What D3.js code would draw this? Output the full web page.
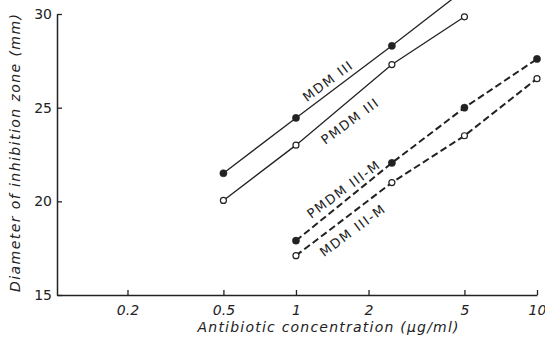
<!DOCTYPE html>
<html><head><meta charset="utf-8">
<script src="https://cdn.jsdelivr.net/npm/d3@7"></script>
<style>
body{margin:0;background:#fff;}
svg{display:block;}
text{font-family:"DejaVu Sans","Liberation Sans",sans-serif;fill:#222;}
</style></head>
<body>
<svg id="chart" width="545" height="339"></svg>
<script>
// ---- data ----
const xTicks = [0.2, 0.5, 1, 2, 5, 10];
const xTickLabels = ["0.2", "0.5", "1", "2", "5", "10"];
const yTicks = [15, 20, 25, 30];
const yTickLabels = ["15", "20", "25", "30"];

const concA = [0.5, 1, 2.5, 5];
const mdmIII = [21.5, 24.45, 28.3, 31.3];
const pmdmIII = [20.05, 23.0, 27.3, 29.85];

const concB = [1, 2.5, 5, 10];
const pmdmIIIM = [17.9, 22.05, 25.0, 27.6];
const mdmIIIM = [17.1, 21.0, 23.5, 26.55];

const seriesNames = ["MDM III", "PMDM III", "PMDM III-M", "MDM III-M"];
// label anchor (concentration, diameter) for each series name
const labelConc = [1.36, 1.68, 1.58, 1.72];
const labelDiam = [26.43, 24.29, 20.65, 18.45];

const xTitle = "Antibiotic concentration (\u03bcg/ml)";
const yTitle = "Diameter of inhibition zone (mm)";

// ---- chart ----
const svg = d3.select("#chart");
const x = d3.scaleLog().domain([0.102, 10]).range([57, 537]);
const y = d3.scaleLinear().domain([15, 30]).range([295, 14]);
const ink = "#222";

const series = [
  {c: concA, v: mdmIII, filled: true, dashed: false},
  {c: concA, v: pmdmIII, filled: false, dashed: false},
  {c: concB, v: pmdmIIIM, filled: true, dashed: true},
  {c: concB, v: mdmIIIM, filled: false, dashed: true}
];

const line = d3.line().x(d => x(d[0])).y(d => y(d[1]));

series.forEach(s => {
  const pts = s.c.map((c, i) => [c, s.v[i]]);
  svg.append("path")
    .attr("d", line(pts))
    .attr("fill", "none")
    .attr("stroke", ink)
    .attr("stroke-width", s.dashed ? 2 : 1.3)
    .attr("stroke-dasharray", s.dashed ? "7,3.5" : null);
  svg.selectAll(null).data(pts).enter().append("circle")
    .attr("cx", d => x(d[0]))
    .attr("cy", d => y(d[1]))
    .attr("r", s.filled ? 3.6 : 3)
    .attr("fill", s.filled ? ink : "#fff")
    .attr("stroke", ink)
    .attr("stroke-width", s.filled ? 0.5 : 1.2);
});

// axes
const xAxis = d3.axisBottom(x).tickValues(xTicks)
  .tickFormat((d, i) => xTickLabels[i]).tickSizeInner(-5).tickSizeOuter(0).tickPadding(10);
const gx = svg.append("g").attr("transform", `translate(0,${y(15)})`).call(xAxis);
gx.select(".domain").attr("stroke", ink).attr("stroke-width", 1.5);
gx.selectAll(".tick line").attr("stroke", ink).attr("stroke-width", 1.3);
gx.selectAll(".tick text").attr("font-size", 14).attr("font-style", "italic")
  .attr("fill", ink).attr("font-family", "DejaVu Sans, sans-serif");

const yAxis = d3.axisLeft(y).tickValues(yTicks)
  .tickFormat((d, i) => yTickLabels[i]).tickSizeInner(-5).tickSizeOuter(0).tickPadding(5);
const gy = svg.append("g").attr("transform", `translate(${x.range()[0]},0)`).call(yAxis);
gy.select(".domain").attr("stroke", ink).attr("stroke-width", 1.5);
gy.selectAll(".tick line").attr("stroke", ink).attr("stroke-width", 1.3);
gy.selectAll(".tick text").attr("font-size", 14)
  .attr("fill", ink).attr("font-family", "DejaVu Sans, sans-serif");

// axis titles
svg.append("text")
  .attr("x", 328).attr("y", 332)
  .attr("text-anchor", "middle")
  .attr("font-size", 14).attr("font-style", "italic")
  .attr("textLength", 261).attr("lengthAdjust", "spacing")
  .text(xTitle);

svg.append("text")
  .attr("transform", "translate(20,153) rotate(-90)")
  .attr("text-anchor", "middle")
  .attr("font-size", 14).attr("font-style", "italic")
  .attr("textLength", 278).attr("lengthAdjust", "spacing")
  .text(yTitle);

// series labels rotated along lines
const ang = -36.5;
seriesNames.forEach((n, i) => {
  const lx = x(labelConc[i]), ly = y(labelDiam[i]);
  svg.append("text")
    .attr("transform", `translate(${lx},${ly}) rotate(${ang})`)
    .attr("text-anchor", "middle")
    .attr("dy", "0.35em")
    .attr("font-size", 13)
    .attr("letter-spacing", 1.6)
    .text(n);
});
</script>
</body></html>
